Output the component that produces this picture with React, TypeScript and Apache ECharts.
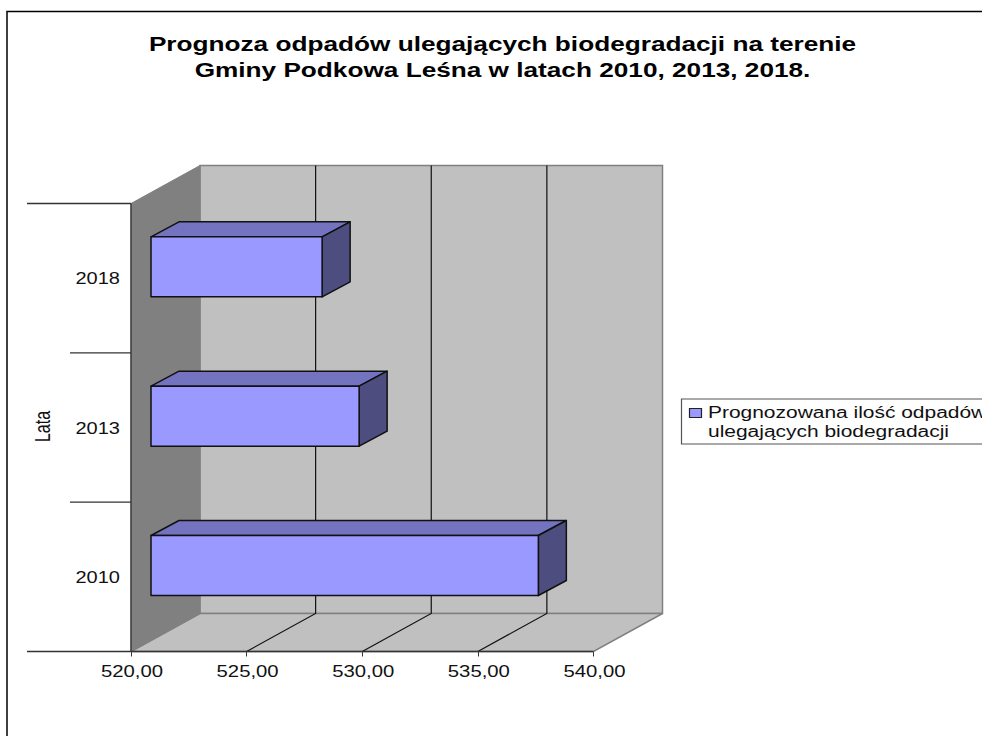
import React, { useEffect, useRef } from "react";
import * as echarts from "echarts";

const years = ["2010", "2013", "2018"];
const forecast = [536.75, 529.0, 527.4];
const xTicks = [520, 525, 530, 535, 540];
const xTickLabels = ["520,00", "525,00", "530,00", "535,00", "540,00"];
const titleLines = [
  "Prognoza odpadów ulegających biodegradacji na terenie",
  "Gminy Podkowa Leśna w latach 2010, 2013, 2018.",
];
const legendLines = ["Prognozowana ilość odpadów", "ulegających biodegradacji"];
const yAxisName = "Lata";

const FONT = '"Liberation Sans", Arial, sans-serif';

const WALL_DX = 69;
const WALL_DY = -38;
const BAR_DX = 20;
const BAR_H = 60;
const BAR_SHIFT = -11.3;
const CAP_DX = 28;
const CAP_DY = -15;

function label(text: string, x: number, y: number, align: string, sx: number) {
  return {
    type: "text",
    x,
    y,
    scaleX: sx,
    z2: 20,
    style: { text, fill: "#111", font: `16px ${FONT}`, textAlign: align, textVerticalAlign: "middle" },
  };
}

function renderFrame(params: any, api: any) {
  const g = params.coordSys;
  const L = g.x, T = g.y, R = g.x + g.width, B = g.y + g.height;
  const band = api.size([0, 1])[1];
  const children: any[] = [];
  const gray = { stroke: "#808080", lineWidth: 1.5 };
  children.push({
    type: "polygon",
    shape: { points: [[L + WALL_DX, T + WALL_DY], [R + WALL_DX, T + WALL_DY], [R + WALL_DX, B + WALL_DY], [L + WALL_DX, B + WALL_DY]] },
    style: { fill: "#C0C0C0", ...gray },
  });
  children.push({
    type: "polygon",
    shape: { points: [[L, B], [L + WALL_DX, B + WALL_DY], [R + WALL_DX, B + WALL_DY], [R, B]] },
    style: { fill: "#C0C0C0", ...gray },
  });
  children.push({
    type: "polygon",
    shape: { points: [[L, T], [L + WALL_DX, T + WALL_DY], [L + WALL_DX, B + WALL_DY], [L, B]] },
    style: { fill: "#808080", stroke: "#808080", lineWidth: 1 },
  });
  xTicks.forEach((t, i) => {
    const x = api.coord([t, 0])[0];
    if (i > 0 && i < xTicks.length - 1) {
      children.push({
        type: "polyline",
        shape: { points: [[x, B], [x + WALL_DX, B + WALL_DY], [x + WALL_DX, T + WALL_DY]] },
        style: { fill: "none", stroke: "#111", lineWidth: 1.2 },
      });
    }
    children.push(label(xTickLabels[i], x + 1, B + 19.5, "center", 1.27));
  });
  const dark = { stroke: "#333", lineWidth: 1.3 };
  children.push({ type: "line", shape: { x1: L, y1: T, x2: L, y2: B }, style: dark });
  children.push({ type: "line", shape: { x1: 27, y1: B, x2: R, y2: B }, style: dark });
  children.push({ type: "line", shape: { x1: 27, y1: T, x2: L, y2: T }, style: dark });
  years.forEach((y, i) => {
    const c = api.coord([520, i])[1];
    children.push(label(y, L - 11, c + 1, "right", 1.25));
    if (i > 0) {
      const yy = c + band / 2;
      children.push({ type: "line", shape: { x1: 70, y1: yy, x2: L, y2: yy }, style: dark });
    }
  });
  children.push({
    type: "text",
    x: 42,
    y: (T + B) / 2 - 1,
    rotation: Math.PI / 2,
    scaleY: 1.4,
    style: { text: yAxisName, fill: "#111", font: `16px ${FONT}`, textAlign: "center", textVerticalAlign: "middle" },
  });
  return { type: "group", children };
}

function renderBar(params: any, api: any) {
  const [xEnd, yc] = api.coord([api.value(0), api.value(1)]);
  const [xStart] = api.coord([xTicks[0], api.value(1)]);
  const x0 = xStart + BAR_DX, x1 = xEnd + BAR_DX;
  const top = yc + BAR_SHIFT - BAR_H / 2, bot = top + BAR_H;
  const line = { stroke: "#111", lineWidth: 1.5, lineJoin: "round" };
  return {
    type: "group",
    children: [
      {
        type: "polygon",
        shape: { points: [[x0, top], [x0 + CAP_DX, top + CAP_DY], [x1 + CAP_DX, top + CAP_DY], [x1, top]] },
        style: { fill: "#7373BF", ...line },
      },
      {
        type: "polygon",
        shape: { points: [[x1, top], [x1 + CAP_DX, top + CAP_DY], [x1 + CAP_DX, bot + CAP_DY], [x1, bot]] },
        style: { fill: "#4D4D80", ...line },
      },
      {
        type: "rect",
        shape: { x: x0, y: top, width: x1 - x0, height: BAR_H },
        style: { fill: "#9999FF", ...line },
      },
    ],
  };
}

export default function App() {
  const ref = useRef<HTMLDivElement>(null);
  useEffect(() => {
    const chart = echarts.init(ref.current!, undefined, { renderer: "svg" });
    chart.setOption({
      animation: false,
      backgroundColor: "#fff",
      grid: { left: 131, top: 203.5, width: 462.5, height: 448 },
      xAxis: {
        type: "value",
        min: 520,
        max: 540,
        interval: 5,
        splitLine: { show: false },
        axisLine: { show: false },
        axisLabel: { show: false },
        axisTick: { show: true, length: 5, lineStyle: { color: "#333" } },
      },
      yAxis: {
        type: "category",
        data: years,
        axisLine: { show: false },
        axisTick: { show: false },
        axisLabel: { show: false },
      },
      graphic: [
        {
          type: "polyline",
          shape: { points: [[7, 736], [7, 11.5], [982, 11.5]] },
          style: { fill: "none", stroke: "#000", lineWidth: 1.5 },
        },
        ...titleLines.map((t, i) => ({
          type: "text",
          x: 502.5,
          y: 44 + i * 26,
          scaleX: 1.31,
          style: { text: t, fill: "#000", font: `bold 20px ${FONT}`, textAlign: "center", textVerticalAlign: "middle" },
        })),
        {
          type: "rect",
          shape: { x: 681.5, y: 399, width: 320, height: 45 },
          style: { fill: "#fff", stroke: "#555", lineWidth: 1.2 },
        },
        {
          type: "rect",
          shape: { x: 689.5, y: 408.5, width: 12, height: 9 },
          style: { fill: "#9999FF", stroke: "#222", lineWidth: 1.2 },
        },
        ...legendLines.map((t, i) => ({
          type: "text",
          x: 708,
          y: 412 + i * 19,
          scaleX: 1.31,
          style: { text: t, fill: "#111", font: `16px ${FONT}`, textAlign: "left", textVerticalAlign: "middle" },
        })),
      ],
      series: [
        { type: "custom", name: "frame", data: [[520, 0]], encode: { x: 0, y: 1 }, renderItem: renderFrame, z: 1, silent: true },
        {
          type: "custom",
          name: legendLines.join(" "),
          data: forecast.map((v, i) => [v, i]),
          encode: { x: 0, y: 1 },
          renderItem: renderBar,
          z: 3,
        },
      ],
    });
    return () => chart.dispose();
  }, []);
  return <div ref={ref} style={{ position: "fixed", left: 0, top: 0, width: 982, height: 736 }} />;
}
